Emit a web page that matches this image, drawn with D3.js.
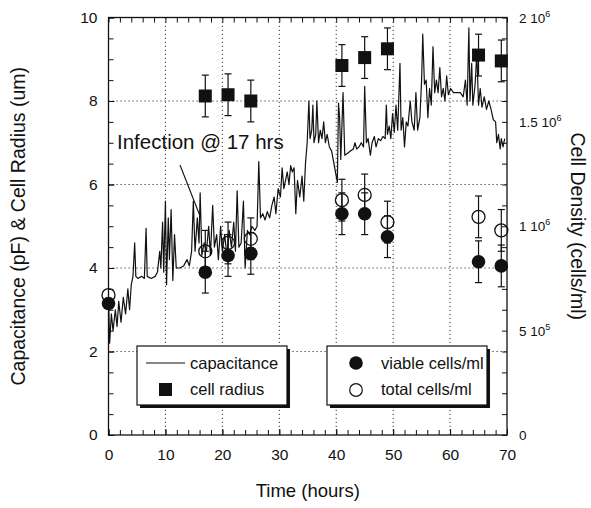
<!DOCTYPE html>
<head>
    <title>Capacitance</title>
    <script src="https://cdn.jsdelivr.net/npm/d3@7"></script>
    <style>
        body { margin: 0; background: #fff; }
        text { font-family: "Liberation Sans", Arial, sans-serif; fill: #111; }
    </style>
</head>
<body>
<div id="container"></div>

<script>

// Temps des prélèvements (heures)
const tSample = [0, 17, 21, 25, 41, 45, 49, 65, 69];
// Densité cellulaire (cells/ml), axe de droite
const viable = [6.3e5, 7.8e5, 8.6e5, 8.7e5, 1.06e6, 1.06e6, 9.5e5, 8.3e5, 8.1e5];
const total  = [6.7e5, 8.8e5, 9.2e5, 9.4e5, 1.125e6, 1.15e6, 1.02e6, 1.045e6, 9.8e5];
const densErr = 1e5;
// Rayon cellulaire (um), axe de gauche
const tRadius = [17, 21, 25, 41, 45, 49, 65, 69];
const radius  = [8.12, 8.15, 8.0, 8.85, 9.04, 9.25, 9.1, 8.96];
const radiusErr = 0.5;

// Trace de capacitance (pF) : [heures, pF]
const capacitance = [
    [0, 3.3], [0.2, 2.2], [0.5, 2.9], [0.8, 2.5], [1.2, 3.0], [1.5, 2.6], [1.8, 3.2], [2.2, 2.7],
    [2.6, 3.3], [3.0, 2.9], [3.4, 3.5], [3.7, 3.0], [4.0, 3.6], [4.3, 3.8], [4.6, 4.6], [4.8, 3.8],
    [5.2, 3.75], [5.8, 3.8], [6.3, 3.75], [6.6, 4.95], [6.8, 3.8], [7.5, 3.75], [8.2, 3.8], [8.6, 3.9],
    [9.0, 4.4], [9.2, 4.0], [9.5, 5.1], [9.7, 3.9], [10.0, 5.6], [10.2, 3.6], [10.5, 5.2], [10.7, 4.2],
    [11.0, 5.4], [11.3, 3.7], [11.6, 4.8], [11.9, 4.0], [12.5, 4.0], [13.2, 4.05], [13.8, 4.2], [14.2, 4.05],
    [14.6, 4.4], [14.9, 5.6], [15.2, 4.4], [15.6, 5.2], [15.9, 4.6], [16.1, 5.8], [16.4, 4.3], [16.8, 4.6],
    [17.2, 4.4], [17.6, 5.0], [17.9, 4.3], [18.3, 5.5], [18.6, 4.5], [19.0, 4.8], [19.3, 4.2], [19.7, 5.0],
    [20.0, 4.4], [20.4, 4.8], [20.8, 4.3], [21.2, 4.9], [21.6, 4.5], [22.0, 5.1], [22.3, 4.4], [22.6, 5.85],
    [22.9, 4.5], [23.3, 4.6], [23.7, 5.6], [24.0, 4.0], [24.4, 4.9], [24.8, 4.8], [25.2, 5.0], [25.7, 4.9],
    [26.1, 5.0], [26.4, 6.55], [26.7, 5.2], [27.1, 5.3], [27.5, 5.15], [27.9, 5.35], [28.3, 5.2], [28.7, 5.5],
    [29.1, 5.7], [29.4, 5.3], [29.8, 5.9], [30.2, 5.7], [30.5, 6.4], [30.8, 5.9], [31.1, 6.1], [31.4, 6.3],
    [31.7, 6.0], [32.0, 6.45], [32.3, 6.3], [32.6, 6.4], [32.9, 5.3], [33.2, 6.1], [33.6, 5.7], [34.0, 6.2],
    [34.3, 5.6], [34.6, 6.5], [34.9, 7.0], [35.2, 8.0], [35.4, 7.1], [35.7, 7.3], [35.9, 7.9], [36.1, 7.0],
    [36.4, 7.2], [36.6, 8.0], [36.9, 7.0], [37.2, 7.3], [37.5, 7.1], [37.8, 7.5], [38.1, 7.0], [38.4, 7.2],
    [38.8, 6.9], [39.2, 6.8], [39.6, 6.5], [40.0, 6.2], [40.2, 6.05], [40.4, 7.95], [40.6, 7.6], [40.8, 6.6],
    [41.2, 8.2], [41.5, 6.7], [42.0, 6.75], [42.5, 6.8], [43.0, 6.85], [43.3, 7.0], [43.6, 6.85], [44.0, 6.9],
    [44.4, 7.0], [44.8, 6.9], [45.0, 8.35], [45.3, 7.0], [45.6, 7.1], [46.0, 6.7], [46.3, 7.0], [46.7, 7.15],
    [47.0, 6.9], [47.4, 7.1], [47.8, 7.05], [48.2, 7.15], [48.6, 7.1], [48.8, 7.9], [49.0, 7.2], [49.3, 7.4],
    [49.6, 7.1], [49.9, 7.7], [50.2, 7.25], [50.5, 7.9], [50.8, 7.3], [51.2, 8.9], [51.4, 7.3], [51.7, 7.6],
    [52.0, 6.9], [52.3, 7.5], [52.6, 7.4], [53.0, 8.0], [53.3, 7.5], [53.7, 7.3], [54.0, 8.2], [54.3, 7.3],
    [54.7, 7.6], [55.0, 8.5], [55.2, 9.6], [55.5, 8.4], [55.8, 8.5], [56.1, 7.6], [56.4, 8.3], [56.7, 7.9],
    [57.0, 9.3], [57.3, 8.2], [57.6, 8.5], [57.9, 8.2], [58.2, 8.8], [58.5, 8.1], [58.8, 8.3], [59.1, 8.0],
    [59.4, 8.6], [59.7, 8.15], [60.1, 8.3], [60.6, 8.2], [61.2, 8.2], [61.8, 8.2], [62.3, 8.1], [62.7, 8.5],
    [63.0, 7.9], [63.3, 9.75], [63.5, 8.0], [63.8, 8.9], [64.0, 7.9], [64.4, 8.4], [64.7, 9.15], [65.0, 7.9],
    [65.3, 8.3], [65.6, 7.85], [66.0, 8.1], [66.4, 7.8], [66.8, 8.0], [67.2, 7.8], [67.6, 7.55], [68.0, 7.5],
    [68.2, 7.0], [68.5, 7.2], [68.8, 6.85], [69.0, 7.1], [69.3, 6.9], [69.6, 7.1]
];

// Étiquettes de l'axe de droite (valeur, mantisse, exposant)
const rightTicks = [[0, "0", ""], [5e5, "5 10", "5"], [1e6, "1 10", "6"], [1.5e6, "1.5 10", "6"], [2e6, "2 10", "6"]];

// Dimensions et marges
const W = 591, H = 508;
const marginTop = 17.5, marginRight = 84, marginBottom = 73, marginLeft = 108.5;

const svg = d3.select("#container")
    .append("svg")
    .attr("width", W)
    .attr("height", H);

// Échelles
const x = d3.scaleLinear().domain([0, 70]).range([marginLeft, W - marginRight]);
const yL = d3.scaleLinear().domain([0, 10]).range([H - marginBottom, marginTop]);
const yR = d3.scaleLinear().domain([0, 2e6]).range([H - marginBottom, marginTop]);

const x0 = x.range()[0], x1 = x.range()[1], y0 = yL.range()[0], y1 = yL.range()[1];

// Grille pointillée
const grid = svg.append("g").attr("stroke", "#333").attr("stroke-dasharray", "1.2,2.8").attr("stroke-width", 1);
grid.selectAll(".gx").data([10, 20, 30, 40, 50, 60]).enter().append("line")
    .attr("x1", d => x(d)).attr("x2", d => x(d)).attr("y1", y0).attr("y2", y1);
grid.selectAll(".gy").data([2, 4, 6, 8]).enter().append("line")
    .attr("y1", d => yL(d)).attr("y2", d => yL(d)).attr("x1", x0).attr("x2", x1);

// Axes (graduations vers l'intérieur)
function styleAxis(g) {
    g.select(".domain").remove();
    g.selectAll("line").attr("stroke", "#111");
    g.selectAll("text").style("font-family", "Liberation Sans, Arial, sans-serif").style("font-size", "15.5px").attr("fill", "#111");
}
const minorX = d3.range(0, 70.1, 2);
const minorY = d3.range(0, 10.01, 0.5);

svg.append("g").attr("transform", `translate(0,${y0})`)
    .call(d3.axisBottom(x).tickValues(minorX).tickSize(-5).tickFormat(""))
    .call(styleAxis);
svg.append("g").attr("transform", `translate(0,${y0})`)
    .call(d3.axisBottom(x).tickValues(d3.range(0, 71, 10)).tickSize(-6).tickPadding(14))
    .call(styleAxis);
svg.append("g").attr("transform", `translate(0,${y1})`)
    .call(d3.axisTop(x).tickValues(minorX).tickSize(-5).tickFormat(""))
    .call(styleAxis);
svg.append("g").attr("transform", `translate(${x0},0)`)
    .call(d3.axisLeft(yL).tickValues(minorY).tickSize(-5).tickFormat(""))
    .call(styleAxis);
svg.append("g").attr("transform", `translate(${x0},0)`)
    .call(d3.axisLeft(yL).tickValues(d3.range(0, 11, 2)).tickSize(-6).tickPadding(11))
    .call(styleAxis);
svg.append("g").attr("transform", `translate(${x1},0)`)
    .call(d3.axisRight(yR).tickValues(d3.range(0, 2.01e6, 1e5)).tickSize(-5).tickFormat(""))
    .call(styleAxis);

// Étiquettes de droite avec exposant
const rt = svg.append("g").selectAll("text").data(rightTicks).enter().append("text")
    .attr("x", x1 + 12)
    .attr("y", d => yR(d[0]) + 5)
    .style("font-size", "13.5px");
rt.append("tspan").text(d => d[1]);
rt.append("tspan").attr("dy", -6).style("font-size", "9px").text(d => d[2]);

// Cadre
svg.append("rect").attr("x", x0).attr("y", y1).attr("width", x1 - x0).attr("height", y0 - y1)
    .attr("fill", "none").attr("stroke", "#111").attr("stroke-width", 1.3);

// Trace de capacitance
const line = d3.line().x(d => x(d[0])).y(d => yL(d[1]));
svg.append("path").datum(capacitance)
    .attr("d", line).attr("fill", "none").attr("stroke", "#111").attr("stroke-width", 1.2)
    .attr("stroke-linejoin", "round");

// Barres d'erreur
function errBars(data, cap) {
    const g = svg.append("g").attr("stroke", "#111").attr("stroke-width", 1.2);
    data.forEach(d => {
        g.append("line").attr("x1", d.x).attr("x2", d.x).attr("y1", d.lo).attr("y2", d.hi);
        g.append("line").attr("x1", d.x - cap).attr("x2", d.x + cap).attr("y1", d.lo).attr("y2", d.lo);
        g.append("line").attr("x1", d.x - cap).attr("x2", d.x + cap).attr("y1", d.hi).attr("y2", d.hi);
    });
}
errBars(tRadius.map((t, i) => ({ x: x(t), lo: yL(radius[i] - radiusErr), hi: yL(radius[i] + radiusErr) })), 3.5);
errBars(tSample.slice(1).map((t, i) => ({ x: x(t), lo: yR(viable[i + 1] - densErr), hi: yR(viable[i + 1] + densErr) })), 3.5);
errBars(tSample.slice(1).map((t, i) => ({ x: x(t), lo: yR(total[i + 1] - densErr), hi: yR(total[i + 1] + densErr) })), 3.5);

// Cercles : cellules totales (vides) et viables (pleins)
svg.append("g").selectAll("circle").data(tSample).enter().append("circle")
    .attr("cx", d => x(d)).attr("cy", (d, i) => yR(total[i])).attr("r", 6.5)
    .attr("fill", "none").attr("stroke", "#111").attr("stroke-width", 1.3);
svg.append("g").selectAll("circle").data(tSample).enter().append("circle")
    .attr("cx", d => x(d)).attr("cy", (d, i) => yR(viable[i])).attr("r", 6.8)
    .attr("fill", "#111");

// Carrés : rayon cellulaire
svg.append("g").selectAll("rect").data(tRadius).enter().append("rect")
    .attr("x", d => x(d) - 6.5).attr("y", (d, i) => yL(radius[i]) - 6.5)
    .attr("width", 13).attr("height", 13).attr("fill", "#111");

// Annotation
svg.append("text").attr("x", 117).attr("y", 149).style("font-size", "20.5px").text("Infection @ 17 hrs");
svg.append("line").attr("x1", 180).attr("y1", 165).attr("x2", 200).attr("y2", 216)
    .attr("stroke", "#111").attr("stroke-width", 1.1);

// Légendes avec ombre
function legendBox(bx, by, bw, bh) {
    svg.append("rect").attr("x", bx + 3).attr("y", by + 3).attr("width", bw).attr("height", bh).attr("fill", "#111");
    svg.append("rect").attr("x", bx).attr("y", by).attr("width", bw).attr("height", bh)
        .attr("fill", "#fff").attr("stroke", "#111").attr("stroke-width", 1.2);
}
legendBox(137, 346, 150, 59);
svg.append("line").attr("x1", 146).attr("x2", 185).attr("y1", 363).attr("y2", 363).attr("stroke", "#111").attr("stroke-width", 1.2);
svg.append("text").attr("x", 190).attr("y", 369).style("font-size", "16.5px").text("capacitance");
svg.append("rect").attr("x", 159).attr("y", 383).attr("width", 13).attr("height", 13).attr("fill", "#111");
svg.append("text").attr("x", 190).attr("y", 395).style("font-size", "16.5px").text("cell radius");

legendBox(327, 346, 160, 59);
svg.append("circle").attr("cx", 356).attr("cy", 363).attr("r", 6.8).attr("fill", "#111");
svg.append("text").attr("x", 381).attr("y", 369).style("font-size", "16.5px").text("viable cells/ml");
svg.append("circle").attr("cx", 356).attr("cy", 390).attr("r", 6.3).attr("fill", "none").attr("stroke", "#111").attr("stroke-width", 1.2);
svg.append("text").attr("x", 381).attr("y", 395).style("font-size", "16.5px").text("total cells/ml");

// Titres des axes
svg.append("text").attr("transform", `translate(25,${(y0 + y1) / 2}) rotate(-90)`)
    .attr("text-anchor", "middle").style("font-size", "19.5px").text("Capacitance (pF) & Cell Radius (um)");
svg.append("text").attr("transform", `translate(571,${(y0 + y1) / 2}) rotate(90)`)
    .attr("text-anchor", "middle").style("font-size", "19.5px").text("Cell Density (cells/ml)");
svg.append("text").attr("x", (x0 + x1) / 2).attr("y", 497)
    .attr("text-anchor", "middle").style("font-size", "18.5px").text("Time (hours)");

</script>
</body>
